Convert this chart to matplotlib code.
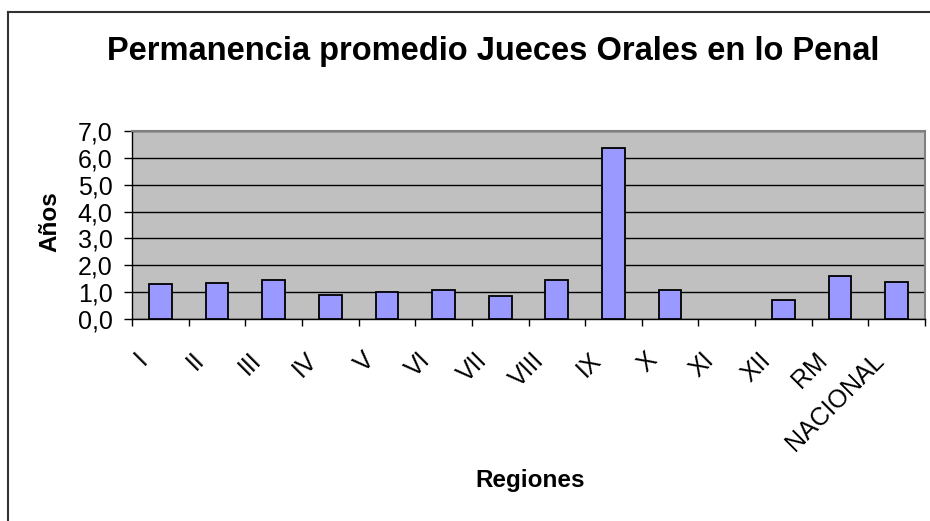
import numpy as np
import matplotlib.pyplot as plt
from matplotlib.lines import Line2D
from matplotlib.transforms import ScaledTranslation

plt.rcParams['font.family'] = ['Liberation Sans', 'DejaVu Sans']

# Data
regiones = ['I', 'II', 'III', 'IV', 'V', 'VI', 'VII', 'VIII', 'IX', 'X',
            'XI', 'XII', 'RM', 'NACIONAL']
anos = [1.3, 1.35, 1.45, 0.88, 1.02, 1.08, 0.86, 1.45, 6.35, 1.09,
        0.0, 0.72, 1.6, 1.37]
y_ticks = [0, 1, 2, 3, 4, 5, 6, 7]

W, H = 930, 521
fig = plt.figure(figsize=(W / 100, H / 100), dpi=100)
fig.patch.set_facecolor('white')

# Plot area in pixel coords
left, right, top, bottom = 132, 925, 131, 319
ax = fig.add_axes([left / W, 1 - bottom / H, (right - left) / W, (bottom - top) / H])
ax.set_facecolor('#C0C0C0')

x = np.arange(len(regiones))
bars = ax.bar(x, anos, width=0.4, color='#9999FF', edgecolor='black', linewidth=1.3, zorder=3)
# empty categories draw nothing
for b, v in zip(bars, anos):
    if v == 0:
        b.set_visible(False)

ax.set_xlim(-0.5, len(regiones) - 0.5)
ax.set_ylim(0, 7)

# y axis
ax.set_yticks(y_ticks)
ax.set_yticklabels([f'{v:.1f}'.replace('.', ',') for v in y_ticks], fontsize=18)
ax.tick_params(axis='y', direction='out', length=6, width=1, pad=8)
ax.yaxis.grid(True, color='black', linewidth=1, zorder=1)
ax.set_axisbelow(True)

# x axis: tick marks between categories, labels at centers
ax.set_xticks(np.arange(-0.5, len(regiones), 1.0))
ax.set_xticklabels([])
ax.tick_params(axis='x', which='major', direction='out', length=5, width=1)
ax.set_xticks(x, minor=True)
ax.set_xticklabels(regiones, minor=True, fontsize=18, rotation=45,
                   ha='right', va='top')
ax.tick_params(axis='x', which='minor', length=0, pad=21)
offset = ScaledTranslation(-8 / 100, 0, fig.dpi_scale_trans)
for lbl in ax.xaxis.get_minorticklabels():
    lbl.set_transform(lbl.get_transform() + offset)

for s in ['top', 'right']:
    ax.spines[s].set_color('#808080')
    ax.spines[s].set_linewidth(1.5)
for s in ['left', 'bottom']:
    ax.spines[s].set_color('black')
    ax.spines[s].set_linewidth(1)

# Titles
fig.text(493 / W, 1 - 60 / H, 'Permanencia promedio Jueces Orales en lo Penal',
         ha='center', va='baseline', fontsize=23.5, fontweight='bold')
fig.text(50 / W, 1 - 222 / H, 'Años', rotation=90, ha='center', va='center',
         fontsize=17.5, fontweight='bold')
fig.text(530 / W, 1 - 481 / H, 'Regiones', ha='center', va='center',
         fontsize=17.5, fontweight='bold')

# Chart border (left and top edges visible)
fig.add_artist(Line2D([8 / W, 8 / W], [0, 1 - 12 / H], transform=fig.transFigure,
                      color='#333333', linewidth=1.5))
fig.add_artist(Line2D([8 / W, 1], [1 - 12 / H, 1 - 12 / H], transform=fig.transFigure,
                      color='#333333', linewidth=1.5))

fig.savefig('out.png', dpi=100)
